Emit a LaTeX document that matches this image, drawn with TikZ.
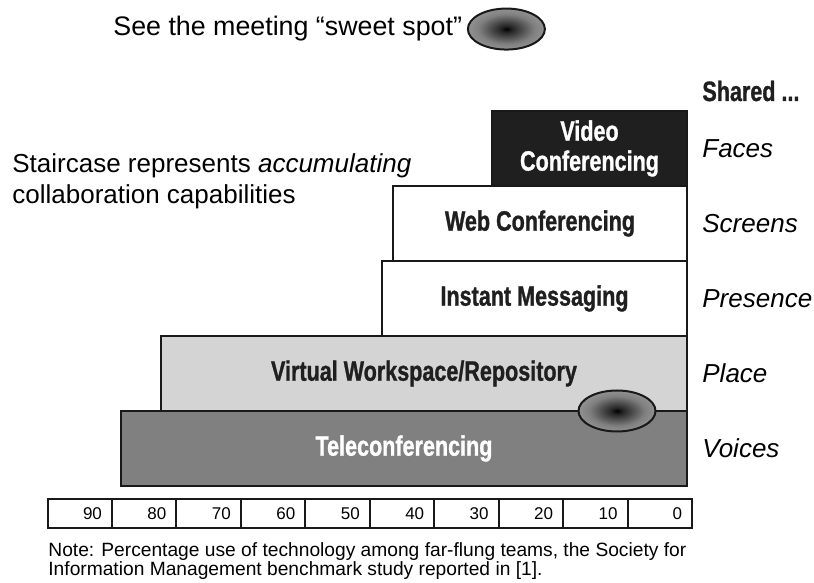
\documentclass[tikz,border=0pt]{standalone}
\usepackage{fontspec}
\setmainfont{Liberation Sans}
\newfontfamily\condbold[FakeStretch=0.77,FakeBold=1]{Liberation Sans Bold}
\usetikzlibrary{calc, positioning, shapes.geometric}
\def\steplinewidth{1pt}
\def\stepheight{37.5pt}
\def\stepdrawcolor{black!90}
\def\telefillcolor{black!50}
\def\workspacefillcolor{black!17}
\def\plainfillcolor{white}
\def\videofillcolor{black!88}
\def\spotwidth{38.5pt}
\def\spotheight{20.5pt}
\def\cellwidth{32.225pt}
\def\cellheight{14.5pt}
\def\cellinnersep{5pt}
\pgfdeclareradialshading{spotshade}{\pgfpoint{0bp}{0bp}}{%
	color(0bp)=(black);
	color(4bp)=(black!85);
	color(18bp)=(black!50);
	color(38bp)=(black!30);
	color(50bp)=(black!25)}
\tikzset{
	% plain text
	body/.style={
		font=\fontsize{13}{15.5}\selectfont,
		inner sep=0pt,
		align=left,
	},
	% shared ... labels
	shared/.style={
		font=\fontsize{13}{15.5}\selectfont\itshape,
		inner sep=0pt,
		anchor=west,
		xshift=7.5pt,
	},
	% stair steps
	stairstep/.style={
		draw=\stepdrawcolor,
		line width=\steplinewidth,
		shape=rectangle,
		minimum height=\stepheight,
		inner sep=0pt,
		outer sep=0pt,
		anchor=south east,
		font=\fontsize{14}{15}\condbold,
		text=black!88,
		align=center,
	},
	tele/.style={
		stairstep,
		fill=\telefillcolor,
		text=white,
		minimum width=283pt,
	},
	workspace/.style={
		stairstep,
		fill=\workspacefillcolor,
		minimum width=263pt,
	},
	messaging/.style={
		stairstep,
		fill=\plainfillcolor,
		minimum width=152.5pt,
	},
	webconf/.style={
		stairstep,
		fill=\plainfillcolor,
		minimum width=147pt,
	},
	video/.style={
		stairstep,
		fill=\videofillcolor,
		text=white,
		minimum width=97.5pt,
	},
	% sweet spot
	spot/.style={
		draw=\stepdrawcolor,
		line width=\steplinewidth,
		shape=ellipse,
		shade,
		shading=spotshade,
		minimum width=\spotwidth,
		minimum height=\spotheight,
		inner sep=0pt,
	},
	% percentage scale
	cell/.style={
		draw=\stepdrawcolor,
		line width=\steplinewidth,
		minimum width=\cellwidth,
		minimum height=\cellheight,
		text width=\cellwidth-2*\cellinnersep,
		inner xsep=\cellinnersep,
		inner ysep=0pt,
		outer sep=0pt,
		align=right,
		anchor=west,
		font=\fontsize{8.5}{10}\selectfont,
	},
	% footnote
	note/.style={
		font=\fontsize{9.6}{9.5}\selectfont,
		inner sep=0pt,
		align=left,
		anchor=north west,
	},
}
\begin{document}
\begin{tikzpicture}
	\useasboundingbox (0,0) rectangle (407pt,291.5pt);
	%
	\node[
		body,
		anchor=base west,
		font=\fontsize{13.4}{16}\selectfont
	] (seetext) at (56.5pt,273.5pt) {See the meeting “sweet spot”};
	\node[
		spot,
		right=2.25pt of seetext
	] (keyspot) {};
	%
	\node[
		body,
		anchor=north west
	] (stairtext) at (6pt,215pt) {Staircase represents \textit{accumulating}\\collaboration capabilities};
	%
	\node[tele] (tele) at (343.5pt,48.5pt) {Teleconferencing};
	\node[workspace] (workspace) at (tele.north east) {Virtual Workspace/Repository};
	\node[messaging] (messaging) at (workspace.north east) {Instant Messaging};
	\node[webconf] (webconf) at (messaging.north east) {Web Conferencing};
	\node[video] (video) at (webconf.north east) {Video\\Conferencing};
	%
	\node[spot] (stairspot) at ([xshift=-35pt]tele.north east) {};
	%
	\node[
		font=\fontsize{14}{15}\condbold,
		text=black!88,
		inner sep=0pt,
		anchor=base west
	] (sharedhead) at ([xshift=7.5pt,yshift=5pt]video.north east) {Shared ...};
	\node[shared] (faces) at (video.east) {Faces};
	\node[shared] (screens) at (webconf.east) {Screens};
	\node[shared] (presence) at (messaging.east) {Presence};
	\node[shared] (place) at (workspace.east) {Place};
	\node[shared] (voices) at (tele.east) {Voices};
	%
	\foreach \v [count=\i] in {90,80,...,0} {
		\node[cell] (cell\v) at ({23.75pt+(\i-1)*\cellwidth},34.75pt) {\v};
	}
	%
	\node[note] (note) at (24pt,20.4pt) {Note: Percentage use of technology among far-flung teams, the Society for\\Information Management benchmark study reported in [1].};
\end{tikzpicture}
\end{document}
